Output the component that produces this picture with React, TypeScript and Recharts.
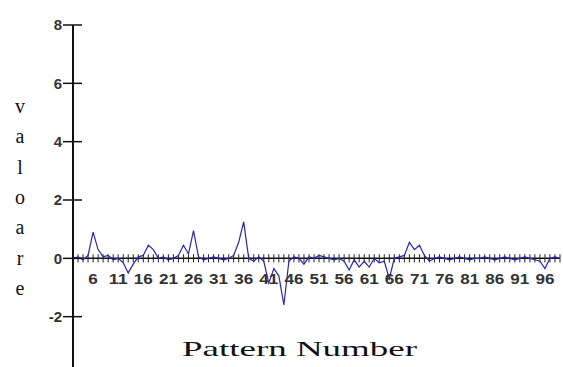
import React from 'react';
import { LineChart, Line, XAxis, YAxis, ReferenceLine, ReferenceDot } from 'recharts';

// pattern numbers 1..98
const patterns = [
  1, 2, 3, 4, 5, 6, 7, 8, 9, 10, 11, 12, 13, 14, 15, 16, 17, 18, 19, 20,
  21, 22, 23, 24, 25, 26, 27, 28, 29, 30, 31, 32, 33, 34, 35, 36, 37, 38, 39, 40,
  41, 42, 43, 44, 45, 46, 47, 48, 49, 50, 51, 52, 53, 54, 55, 56, 57, 58, 59, 60,
  61, 62, 63, 64, 65, 66, 67, 68, 69, 70, 71, 72, 73, 74, 75, 76, 77, 78, 79, 80,
  81, 82, 83, 84, 85, 86, 87, 88, 89, 90, 91, 92, 93, 94, 95, 96, 97, 98,
];

// valoare per pattern
const valoare = [
  0.0, 0.05, -0.05, 0.1, 0.9, 0.3, 0.05, 0.1, -0.05, 0.0,
  -0.15, -0.5, -0.2, 0.05, 0.1, 0.45, 0.3, 0.0, 0.05, -0.05,
  0.0, 0.1, 0.45, 0.15, 0.95, 0.05, -0.05, 0.0, 0.05, 0.0,
  -0.05, 0.0, 0.1, 0.55, 1.25, 0.0, -0.1, 0.05, -0.1, -0.85,
  -0.35, -0.6, -1.6, -0.1, 0.05, 0.0, -0.2, 0.05, 0.0, 0.1,
  0.05, 0.0, -0.05, 0.0, -0.1, -0.4, -0.05, -0.3, -0.1, -0.3,
  0.0, -0.15, -0.1, -0.7, 0.0, 0.05, 0.1, 0.55, 0.3, 0.45,
  0.1, -0.1, 0.0, 0.05, 0.0, -0.05, 0.0, 0.05, 0.0, -0.05,
  0.0, 0.0, 0.05, 0.0, -0.05, 0.0, 0.05, 0.0, -0.05, 0.0,
  0.05, 0.0, -0.05, -0.1, -0.35, 0.0, 0.05, 0.0,
];

const xLabels = [6, 11, 16, 21, 26, 31, 36, 41, 46, 51, 56, 61, 66, 71, 76, 81, 86, 91, 96];
const yTicks = [-2, 0, 2, 4, 6, 8];

const data = patterns.map((p, i) => ({ p, v: valoare[i] }));

const FONT = "'Liberation Sans', Arial, sans-serif";

const YTick = (props: any) => {
  const { x, y, payload } = props;
  return (
    <g>
      <line x1={x - 10} x2={x + 9} y1={y} y2={y} stroke="#111" strokeWidth={1.5} />
      <text x={x - 11} y={y} dy="0.36em" textAnchor="end" fontSize={15} fontWeight="bold"
        fontFamily={FONT} fill="#333">
        {payload.value}
      </text>
    </g>
  );
};

// stretched digit label under the zero line
const makeLabel = (txt: string) => (props: any) => {
  const vb = props.viewBox || {};
  return (
    <text x={vb.x - 5} y={vb.y + 26} textAnchor="middle" fontSize={15} fontWeight="bold" fontFamily={FONT}
      fill="#333" textLength={txt.length * 9.5} lengthAdjust="spacingAndGlyphs">
      {txt}
    </text>
  );
};

export default function App() {
  return (
    <div style={{ position: 'absolute', left: 0, top: 0, width: 563, height: 367, overflow: 'hidden', background: '#fff' }}>
      <LineChart width={563} height={390} data={data} margin={{ top: 25, right: 3, left: 0, bottom: 15 }}>
        <XAxis dataKey="p" type="number" domain={[1, 98]} hide />
        <YAxis
          domain={[-4, 8]}
          ticks={yTicks}
          width={73}
          tickSize={0}
          tickMargin={0}
          tickLine={false}
          axisLine={{ stroke: '#111', strokeWidth: 2 }}
          tick={<YTick />}
          interval={0}
        />
        <ReferenceLine y={0} stroke="#111" strokeWidth={1.5} />
        {patterns.map((p) => (
          <ReferenceLine
            key={'t' + p}
            segment={[{ x: p, y: -0.14 }, { x: p, y: 0.14 }]}
            stroke="#222"
            strokeWidth={1}
            ifOverflow="visible"
          />
        ))}
        {xLabels.map((p) => (
          <ReferenceDot
            key={'l' + p}
            x={p}
            y={0}
            r={0}
            fill="none"
            stroke="none"
            label={{ content: makeLabel(String(p)) }}
          />
        ))}
        <Line type="linear" dataKey="v" stroke="#2727b5" strokeWidth={1.2} dot={false} isAnimationActive={false} />
      </LineChart>
      <svg width={563} height={367} style={{ position: 'absolute', left: 0, top: 0, pointerEvents: 'none' }}>
        <text fontFamily="'Liberation Serif', 'Times New Roman', serif" fontSize={20} fill="#111" textAnchor="middle">
          {'valoare'.split('').map((ch, i) => (
            <tspan key={i} x={20} y={113 + i * 30.3}>{ch}</tspan>
          ))}
        </text>
        <text x={182} y={356} fontSize={22} textLength={235} lengthAdjust="spacingAndGlyphs"
          fontFamily="'Liberation Serif', 'Times New Roman', serif" fill="#111">
          Pattern Number
        </text>
      </svg>
    </div>
  );
}
